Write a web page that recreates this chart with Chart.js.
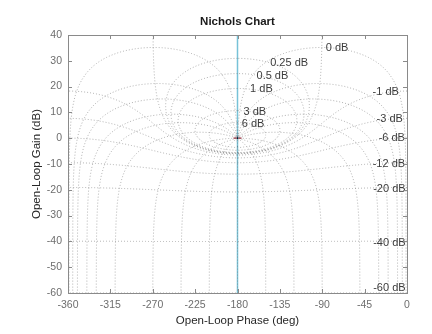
<!DOCTYPE html>
<html lang="en">
<head>
    <meta charset="UTF-8">
    <title>Nichols Chart</title>
    <style>
        html, body { margin: 0; padding: 0; background: #fff; }
        #nichols { display: block; }
    </style>
</head>
<body>
<canvas id="nichols" width="432" height="334"></canvas>

<script src="https://cdn.jsdelivr.net/npm/chart.js@4"></script>
<script>
// closed-loop gain contours (dB) and closed-loop phase contours (deg)
const gainLevels = [6, 3, 1, 0.5, 0.25, 0, -1, -3, -6, -12, -20, -40, -60];
const phaseLevels = [-1, -5, -10, -20, -30, -50, -90, -120, -150, -180];

// where each gain contour gets its text: [phase, gain]
const labelText  = ['6 dB', '3 dB', '1 dB', '0.5 dB', '0.25 dB', '0 dB', '-1 dB', '-3 dB', '-6 dB', '-12 dB', '-20 dB', '-40 dB', '-60 dB'];
const labelPhase = [-175.4, -173.6, -166.6, -159.8, -145.3, -86.2, -8.6, -4.4, -2.2, -2, -1.5, -1.5, -1.5];
const labelGain  = [5.5, 10.2, 19.1, 24.1, 29.1, 35, 17.9, 7.4, 0, -9.8, -19.8, -40.7, -58.1];

// open-loop response and critical point
const responsePhase = [-180, -180];
const responseGain = [-60, 40];
const criticalPhase = [-180];
const criticalGain = [0];

const phaseTicks = [-360, -315, -270, -225, -180, -135, -90, -45, 0];
const gainTicks = [-60, -50, -40, -30, -20, -10, 0, 10, 20, 30, 40];

// G = T / (1 - T), returned as [phase deg, gain dB]
function openLoop(m, th) {
    const tr = m * Math.cos(th), ti = m * Math.sin(th);
    const dr = 1 - tr, di = -ti;
    const den = dr * dr + di * di;
    const gr = (tr * dr + ti * di) / den;
    const gi = (ti * dr - tr * di) / den;
    return [Math.atan2(gi, gr) * 180 / Math.PI, 10 * Math.log10(gr * gr + gi * gi)];
}

// keep phase continuous and inside (-360, 0]
function unwrap(pts) {
    let prev = null;
    return pts.map(function (p) {
        let ph = p[0];
        if (prev === null) {
            if (ph > 0) ph -= 360;
        } else {
            while (ph - prev > 180) ph -= 360;
            while (prev - ph > 180) ph += 360;
        }
        prev = ph;
        return { x: ph, y: p[1] };
    });
}

function gainContour(db) {
    const m = Math.pow(10, db / 20);
    const pts = [];
    const n = 3600;
    const lo = db === 0 ? 0.2 : 0, hi = db === 0 ? 359.8 : 360;
    for (let k = 0; k <= n; k++) {
        const deg = lo + (hi - lo) * k / n;
        // negative contours wrap once round the origin, run them clockwise
        const th = (db < 0 ? -deg : deg) * Math.PI / 180;
        pts.push(openLoop(m, th));
    }
    return unwrap(pts);
}

const magSamples = (function () {
    const s = [];
    for (let k = 0; k <= 800; k++) s.push(Math.pow(10, -4 + 8 * k / 800));
    for (let k = 0; k <= 500; k++) s.push(0.95 + 0.1 * k / 500);
    return s.sort(function (a, b) { return a - b; });
})();

function phaseContour(deg) {
    const th = deg * Math.PI / 180;
    return unwrap(magSamples.map(function (m) { return openLoop(m, th); }));
}

const gridStyle = {
    type: 'line',
    showLine: true,
    borderColor: 'rgba(125,125,125,0.6)',
    borderWidth: 1,
    borderDash: [1, 2],
    pointRadius: 0,
    tension: 0,
    parsing: false
};

const datasets = [];
gainLevels.forEach(function (g) {
    datasets.push(Object.assign({ data: gainContour(g) }, gridStyle));
});
phaseLevels.forEach(function (p) {
    datasets.push(Object.assign({ data: phaseContour(p) }, gridStyle));
    if (p !== -180) datasets.push(Object.assign({ data: phaseContour(-360 - p) }, gridStyle));
});

datasets.push({
    type: 'line',
    showLine: true,
    data: responsePhase.map(function (x, i) { return { x: x, y: responseGain[i] }; }),
    borderColor: '#77c2d8',
    borderWidth: 1.5,
    pointRadius: 0
});
datasets.push({
    type: 'scatter',
    data: criticalPhase.map(function (x, i) { return { x: x, y: criticalGain[i] }; }),
    pointStyle: 'cross',
    pointRadius: 4,
    borderColor: '#a3293b',
    borderWidth: 1.2
});

const FONT = "'Liberation Sans', Arial, sans-serif";

// contour text, box with inward ticks and the title
const nicholsDecor = {
    id: 'nicholsDecor',
    afterDatasetsDraw(chart) {
        const ctx = chart.ctx, xs = chart.scales.x, ys = chart.scales.y;
        ctx.save();
        ctx.font = '11px ' + FONT;
        ctx.fillStyle = '#3c3c3c';
        ctx.textBaseline = 'middle';
        labelText.forEach(function (t, i) {
            ctx.textAlign = gainLevels[i] < 0 ? 'right' : 'left';
            ctx.fillText(t, xs.getPixelForValue(labelPhase[i]), ys.getPixelForValue(labelGain[i]));
        });
        ctx.restore();
    },
    afterDraw(chart) {
        const ctx = chart.ctx, a = chart.chartArea, xs = chart.scales.x, ys = chart.scales.y;
        ctx.save();
        ctx.strokeStyle = '#8a8a8a';
        ctx.lineWidth = 1;
        ctx.strokeRect(Math.round(a.left) + 0.5, Math.round(a.top) + 0.5,
            Math.round(a.right - a.left), Math.round(a.bottom - a.top));
        ctx.beginPath();
        phaseTicks.forEach(function (v) {
            const x = Math.round(xs.getPixelForValue(v)) + 0.5;
            ctx.moveTo(x, a.bottom); ctx.lineTo(x, a.bottom - 4);
            ctx.moveTo(x, a.top); ctx.lineTo(x, a.top + 4);
        });
        gainTicks.forEach(function (v) {
            const y = Math.round(ys.getPixelForValue(v)) + 0.5;
            ctx.moveTo(a.left, y); ctx.lineTo(a.left + 4, y);
            ctx.moveTo(a.right, y); ctx.lineTo(a.right - 4, y);
        });
        ctx.stroke();

        ctx.font = 'bold 11.5px ' + FONT;
        ctx.fillStyle = '#1a1a1a';
        ctx.textAlign = 'center';
        ctx.textBaseline = 'middle';
        ctx.fillText('Nichols Chart', (a.left + a.right) / 2, 22);
        ctx.restore();
    }
};

window.onload = function () {
    const context = document.querySelector('#nichols').getContext('2d');
    new Chart(context, {
        type: 'scatter',
        data: { datasets: datasets },
        options: {
            responsive: false,
            animation: false,
            layout: { padding: { left: 30, top: 35, right: 25, bottom: 0 } },
            plugins: {
                legend: { display: false },
                tooltip: { enabled: false }
            },
            scales: {
                x: {
                    type: 'linear',
                    min: -360,
                    max: 0,
                    afterBuildTicks(s) { s.ticks = phaseTicks.map(function (v) { return { value: v }; }); },
                    afterFit(s) { s.height = 41; },
                    grid: { display: false, drawTicks: false, tickLength: 0 },
                    border: { display: false },
                    ticks: { padding: 6, color: '#6e6e6e', font: { family: FONT, size: 10.5 }, maxRotation: 0 },
                    title: { display: true, text: 'Open-Loop Phase (deg)', color: '#262626',
                        font: { family: FONT, size: 11.5 }, padding: { top: 2, bottom: 6 } }
                },
                y: {
                    type: 'linear',
                    min: -60,
                    max: 40,
                    afterBuildTicks(s) { s.ticks = gainTicks.map(function (v) { return { value: v }; }); },
                    afterFit(s) { s.width = 38; },
                    grid: { display: false, drawTicks: false, tickLength: 0 },
                    border: { display: false },
                    ticks: { padding: 6, color: '#6e6e6e', font: { family: FONT, size: 10.5 } },
                    title: { display: true, text: 'Open-Loop Gain (dB)', color: '#262626',
                        font: { family: FONT, size: 11.5 }, padding: { top: 0, bottom: 0 } }
                }
            }
        },
        plugins: [nicholsDecor]
    });
};
</script>
</body>
</html>
